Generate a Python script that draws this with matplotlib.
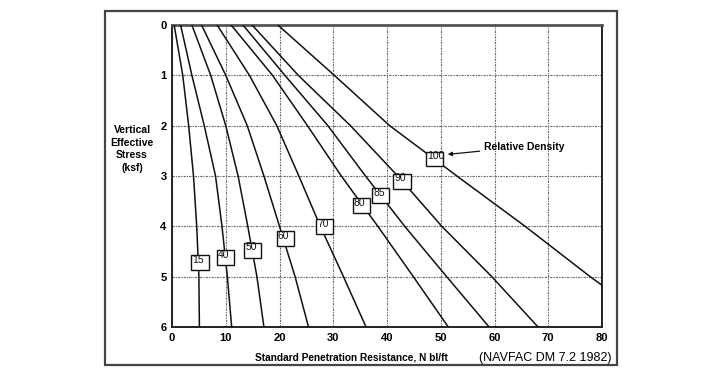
import matplotlib
matplotlib.use("Agg")
import matplotlib.pyplot as plt
from matplotlib.patches import Rectangle

plt.rcParams["font.family"] = ["Liberation Sans", "DejaVu Sans"]

# Relative density curves: N (blows/ft) read at vertical effective stress (ksf)
stress = [0, 1, 2, 3, 4, 5, 6]
n_15 = [0.4, 2.0, 3.1, 4.0, 4.6, 5.0, 5.1]
n_40 = [1.6, 3.7, 6.0, 8.1, 9.3, 10.3, 11.1]
n_50 = [3.7, 7.2, 10.0, 12.3, 14.1, 15.8, 17.1]
n_60 = [5.5, 10.0, 14.0, 17.1, 20.0, 22.9, 25.4]
n_70 = [8.4, 14.4, 19.5, 23.6, 27.6, 31.9, 36.1]
n_80 = [11.0, 18.7, 25.2, 31.5, 38.3, 44.9, 51.4]
n_85 = [13.2, 21.0, 29.0, 36.0, 43.3, 51.1, 59.0]
n_90 = [14.9, 23.5, 33.2, 42.0, 50.2, 59.5, 68.1]
stress_100 = [0, 1, 2, 3, 4, 5, 5.17]
n_100 = [19.7, 30.2, 40.5, 53.0, 65.7, 77.8, 80.0]

density_labels = ["15", "40", "50", "60", "70", "80", "85", "90", "100"]
curves = [n_15, n_40, n_50, n_60, n_70, n_80, n_85, n_90, n_100]
curve_stress = [stress] * 8 + [stress_100]

# label box positions (N left, stress top)
box_n = [3.6, 8.4, 13.4, 19.5, 26.8, 33.6, 37.2, 41.2, 47.2]
box_s = [4.57, 4.48, 4.33, 4.10, 3.86, 3.44, 3.24, 2.96, 2.52]

x_ticks = [0, 10, 20, 30, 40, 50, 60, 70, 80]
y_ticks = [0, 1, 2, 3, 4, 5, 6]

W, H = 722, 378
fig = plt.figure(figsize=(W / 100, H / 100), dpi=100)
ax = fig.add_axes([172 / W, 1 - 327 / H, 430 / W, 302 / H])

# outer frame
fig.patches.append(
    Rectangle((105 / W, 1 - 365 / H), 512 / W, 354 / H, transform=fig.transFigure,
              fill=False, edgecolor="#444444", linewidth=1.6)
)

for n_vals, s_vals in zip(curves, curve_stress):
    ax.plot(n_vals, s_vals, color="#111111", linewidth=1.1, zorder=3)

bw, bh = 3.2, 0.29
for lab, bx, by in zip(density_labels, box_n, box_s):
    ax.add_patch(Rectangle((bx, by), bw, bh, facecolor="white", edgecolor="#111111",
                           linewidth=1.0, zorder=4))
    ax.text(bx + 0.2, by - 0.01, lab, fontsize=7.5, va="top", ha="left",
            color="#111111", zorder=5)

ax.annotate("Relative Density", xy=(51.3, 2.57), xytext=(58.0, 2.42),
            fontsize=7.5, fontweight="bold", va="center", ha="left",
            arrowprops=dict(arrowstyle="-|>", color="#111111", lw=0.9,
                            mutation_scale=6, shrinkA=1, shrinkB=0))

ax.set_xlim(0, 80)
ax.set_ylim(6, 0)
ax.set_xticks(x_ticks)
ax.set_yticks(y_ticks)
ax.tick_params(length=0, labelsize=8, pad=4)
for t in ax.get_xticklabels() + ax.get_yticklabels():
    t.set_fontweight("bold")
ax.grid(True, color="#666666", linestyle=(0, (2, 1, 1, 1)), linewidth=0.8)
ax.set_axisbelow(True)
for sp in ax.spines.values():
    sp.set_color("#222222")
    sp.set_linewidth(1.4)
ax.spines["top"].set_color("#555555")
ax.spines["top"].set_linewidth(2.0)

fig.text(132 / W, 1 - 149 / H, "Vertical\nEffective\nStress\n(ksf)", ha="center",
         va="center", fontsize=7.5, fontweight="bold", linespacing=1.3)
fig.text(351 / W, 1 - 358 / H, "Standard Penetration Resistance, N bl/ft",
         ha="center", va="center", fontsize=7.3, fontweight="bold")
fig.text(545 / W, 1 - 358 / H, "(NAVFAC DM 7.2 1982)", ha="center", va="center",
         fontsize=9)

fig.savefig("out.png", dpi=100)
